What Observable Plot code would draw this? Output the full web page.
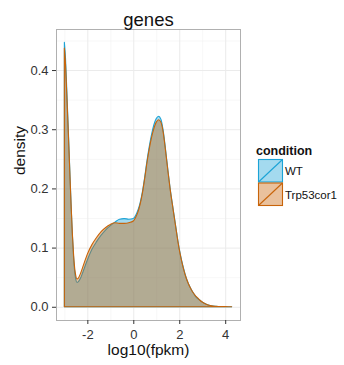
<!DOCTYPE html>
<html><head><meta charset="utf-8">
<script src="https://cdn.jsdelivr.net/npm/d3@7"></script>
<script src="https://cdn.jsdelivr.net/npm/@observablehq/plot@0.6"></script>
<style>
body{margin:0;background:#fff;font-family:"Liberation Sans",Arial,Helvetica,sans-serif;}
#wrap{position:relative;width:344px;height:365px;}
#legend{position:absolute;left:250px;top:140px;}
</style></head><body><div id="wrap"></div>
<script>
const chartTitle = "genes";
const xLabel = "log10(fpkm)";
const yLabel = "density";
const legendTitle = "condition";
const conditions = ["WT", "Trp53cor1"];
const colors = ["#1BA3D6", "#C8640A"];

const logFpkm = [-3.0,-2.95,-2.9,-2.85,-2.8,-2.75,-2.7,-2.65,-2.6,-2.55,-2.5,-2.45,-2.4,-2.3,-2.2,-2.0,-1.8,-1.6,-1.4,-1.2,-1.0,-0.8,-0.6,-0.4,-0.2,0.0,0.1,0.2,0.3,0.4,0.5,0.6,0.7,0.8,0.9,1.0,1.1,1.2,1.3,1.4,1.5,1.6,1.7,1.8,1.9,2.0,2.1,2.2,2.3,2.4,2.5,2.6,2.7,2.8,2.9,3.0,3.2,3.4,3.6,3.8,4.0,4.28];
const wtDensity = [.447,.420,.372,.322,.270,.216,.165,.120,.084,.059,.046,.041,.042,.048,.058,.079,.097,.110,.121,.130,.137,.143,.148,.149,.148,.149,.154,.163,.176,.195,.220,.248,.272,.292,.308,.318,.322,.317,.298,.267,.233,.201,.174,.148,.122,.098,.079,.063,.049,.039,.031,.024,.018,.014,.011,.008,.004,.0016,.0007,.0003,.0002,.0001];
const trpDensity = [.437,.410,.364,.316,.266,.215,.166,.123,.089,.065,.052,.047,.048,.056,.067,.089,.105,.117,.127,.134,.139,.142,.141,.141,.142,.145,.151,.160,.174,.193,.218,.245,.268,.287,.302,.312,.316,.312,.295,.265,.232,.200,.173,.147,.121,.097,.078,.062,.049,.039,.031,.024,.019,.015,.011,.008,.004,.0017,.0008,.0003,.0002,.0001];

const xTicks = [-2, 0, 2, 4];
const xMinor = [-3, -1, 1, 3];
const yTicks = [0, 0.1, 0.2, 0.3, 0.4];
const yMinor = [0.05, 0.15, 0.25, 0.35, 0.45];

const series = [wtDensity, trpDensity];
const rows = conditions.map((c, i) => logFpkm.map((x, j) => ({condition: c, x, y: series[i][j]})));

const xExt = d3.extent(logFpkm);
const yMax = d3.max([...wtDensity, ...trpDensity]);
const xPad = (xExt[1] - xExt[0]) * 0.05;
const yPad = yMax * 0.05;

const font = "'Liberation Sans', Arial, Helvetica, sans-serif";

const chart = Plot.plot({
  width: 344, height: 365,
  marginLeft: 56, marginRight: 104, marginTop: 29, marginBottom: 45,
  style: {fontFamily: font, background: "#fff"},
  x: {domain: [xExt[0] - xPad, xExt[1] + xPad]},
  y: {domain: [0 - yPad, yMax + yPad]},
  marks: [
    Plot.gridX(xMinor, {stroke: "#f2f2f2", strokeOpacity: 1, strokeWidth: 0.6}),
    Plot.gridY(yMinor, {stroke: "#f2f2f2", strokeOpacity: 1, strokeWidth: 0.6}),
    Plot.gridX(xTicks, {stroke: "#ebebeb", strokeOpacity: 1, strokeWidth: 1}),
    Plot.gridY(yTicks, {stroke: "#ebebeb", strokeOpacity: 1, strokeWidth: 1}),
    ...rows.map((r, i) => Plot.areaY(r, {x: "x", y: "y", fill: colors[i], fillOpacity: 0.4, stroke: colors[i], strokeWidth: 1.1, curve: "monotone-x"})),
    Plot.frame({stroke: "#b0b0b0"}),
    Plot.axisX({ticks: xTicks, tickSize: 4, tickPadding: 5, fontSize: 13, color: "#333", tickFormat: d => String(d), label: null}),
    Plot.axisY({ticks: yTicks, tickSize: 4, tickPadding: 4, fontSize: 13, color: "#333", tickFormat: d3.format(".1f"), label: null}),
    Plot.text([chartTitle], {frameAnchor: "top", lineAnchor: "bottom", dy: -4, fontSize: 18.5, fill: "#111"}),
    Plot.text([xLabel], {frameAnchor: "bottom", lineAnchor: "bottom", dy: 34.5, fontSize: 15.5, fill: "#111"}),
    Plot.text([yLabel], {frameAnchor: "left", lineAnchor: "middle", dx: -36.5, rotate: -90, fontSize: 15.5, fill: "#111"})
  ]
});
document.getElementById("wrap").appendChild(chart);

// legend
const lg = d3.select("#wrap").append("svg").attr("id", "legend")
  .attr("width", 94).attr("height", 70).style("font-family", font);
lg.append("text").attr("x", 6).attr("y", 15).attr("font-size", 12.5).attr("font-weight", "bold").attr("fill", "#111").text(legendTitle);
conditions.forEach((c, i) => {
  const y0 = 19 + i * 23.5;
  const g = lg.append("g");
  g.append("rect").attr("x", 8.5).attr("y", y0 + 0.5).attr("width", 24).attr("height", 22.5)
    .attr("fill", colors[i]).attr("fill-opacity", 0.4).attr("stroke", colors[i]).attr("stroke-width", 1.1);
  g.append("line").attr("x1", 8.5).attr("y1", y0 + 23).attr("x2", 32.5).attr("y2", y0 + 0.5)
    .attr("stroke", colors[i]).attr("stroke-width", 1.1);
  g.append("text").attr("x", 35).attr("y", y0 + 12).attr("dy", "0.35em").attr("font-size", 11.5).attr("fill", "#111").text(c);
});
</script></body></html>
